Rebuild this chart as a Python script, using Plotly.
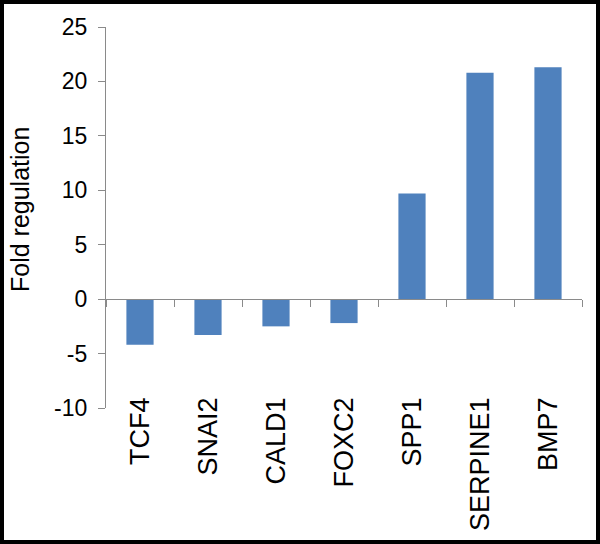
import plotly.graph_objects as go

genes = ["TCF4", "SNAI2", "CALD1", "FOXC2", "SPP1", "SERPINE1", "BMP7"]
fold_regulation = [-4.2, -3.3, -2.5, -2.2, 9.7, 20.8, 21.3]
y_ticks = [-10, -5, 0, 5, 10, 15, 20, 25]
y_tick_labels = ["-10", "-5", "0", "5", "10", "15", "20", "25"]

W, H = 600, 544
ML, MR, MT, MB = 106, 18, 27, 136
pw, ph = W - ML - MR, H - MT - MB
ymin, ymax = -10, 25

axis_col = "#8a8a8a"
font = "Liberation Sans, Arial, Helvetica, sans-serif"

fig = go.Figure()
fig.add_trace(go.Bar(
    x=genes, y=fold_regulation, marker_color="#4F81BD",
    marker_line_width=0, width=0.4, hoverinfo="x+y", showlegend=False,
))
# invisible trace to carry the zero-line category axis
fig.add_trace(go.Scatter(
    x=genes, y=[0] * len(genes), xaxis="x2", mode="markers",
    marker_opacity=0, hoverinfo="skip", showlegend=False,
))

def px_x(p):
    return (p - ML) / pw

def px_y(p):
    return (H - MB - p) / ph

fig.update_layout(
    width=W, height=H,
    margin=dict(l=ML, r=MR, t=MT, b=MB),
    paper_bgcolor="white", plot_bgcolor="white",
    font=dict(family=font, color="black"),
    xaxis=dict(
        type="category", categoryorder="array", categoryarray=genes,
        range=[-0.5, len(genes) - 0.5],
        showline=False, ticks="", showgrid=False, zeroline=False,
        tickangle=-90, tickfont=dict(size=27, family=font),
        ticklabelstandoff=-17,
    ),
    xaxis2=dict(
        type="category", categoryorder="array", categoryarray=genes,
        range=[-0.5, len(genes) - 0.5],
        overlaying="x", anchor="free", position=(0 - ymin) / (ymax - ymin),
        showline=True, linecolor=axis_col, linewidth=1.3,
        ticks="outside", tickson="boundaries", ticklen=7, tickcolor=axis_col, tickwidth=1.3,
        showticklabels=False, showgrid=False, zeroline=False,
    ),
    yaxis=dict(
        range=[ymin, ymax], tickvals=y_ticks, ticktext=y_tick_labels,
        showline=True, linecolor=axis_col, linewidth=1.3,
        ticks="outside", ticklen=7, tickcolor=axis_col, tickwidth=1.3,
        showgrid=False, zeroline=False,
        tickfont=dict(size=23, family=font), ticklabelstandoff=6,
    ),
    bargap=0.6,
    annotations=[dict(
        text="Fold regulation", xref="paper", yref="paper",
        x=px_x(20), y=px_y(210), textangle=-90, showarrow=False,
        xanchor="center", yanchor="middle", font=dict(size=25, family=font),
    )],
    shapes=[dict(
        type="rect", xref="paper", yref="paper",
        x0=px_x(2), x1=px_x(598), y0=px_y(542), y1=px_y(2),
        line=dict(color="black", width=4), fillcolor="rgba(0,0,0,0)", layer="above",
    )],
)

fig.write_html("out.html", config={"displayModeBar": False},
               post_script="document.body.style.margin='0';")
